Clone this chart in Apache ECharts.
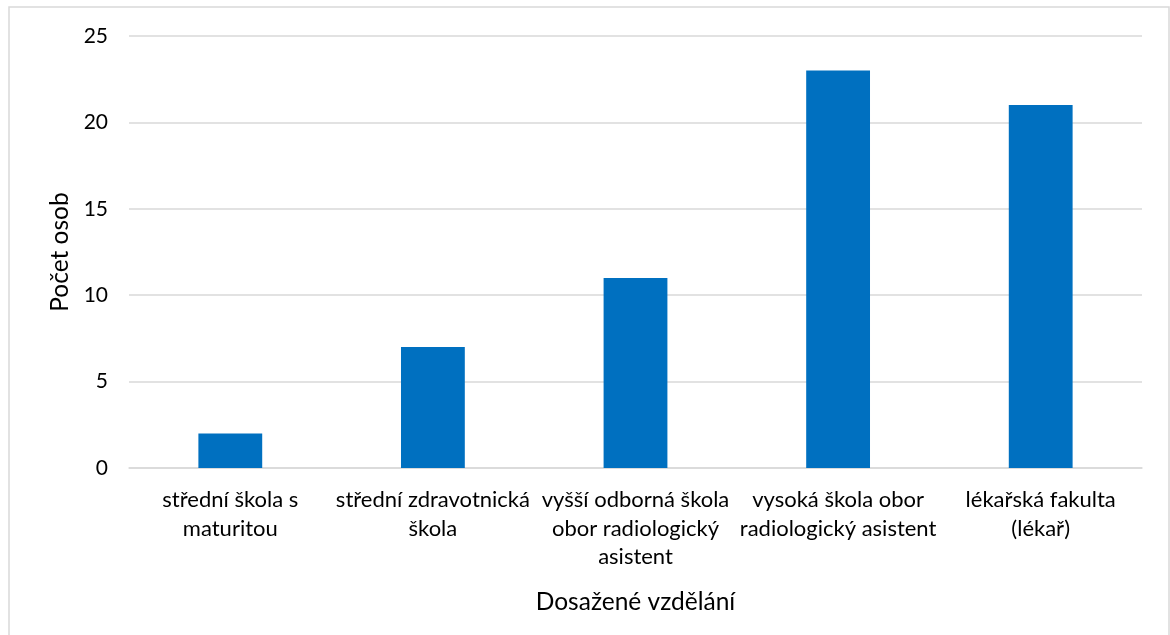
<!DOCTYPE html>
<html>
<head>
<meta charset="utf-8">
<script src="https://cdn.jsdelivr.net/npm/echarts@6/dist/echarts.min.js"></script>
<style>
html,body{margin:0;padding:0;background:#fff;}
#c{width:1170px;height:635px;}
</style>
</head>
<body>
<div id="c"></div>
<script>
const categories = [
  "střední škola s\nmaturitou",
  "střední zdravotnická\nškola",
  "vyšší odborná škola\nobor radiologický\nasistent",
  "vysoká škola obor\nradiologický asistent",
  "lékařská fakulta\n(lékař)"
];
const values = [2, 7, 11, 23, 21];
const yTicks = [0, 5, 10, 15, 20, 25];
const xTitle = "Dosažené vzdělání";
const yTitle = "Počet osob";

const font = "Lato, 'Noto Sans', sans-serif";
const chart = echarts.init(document.getElementById('c'), null, {renderer: 'canvas'});
chart.setOption({
  animation: false,
  backgroundColor: '#fff',
  graphic: [{
    type: 'rect',
    shape: {x: 9, y: 7, width: 1160, height: 640},
    style: {fill: 'none', stroke: '#d9d9d9', lineWidth: 1.5},
    silent: true
  }],
  grid: {left: 129, right: 28, top: 36, bottom: 167, containLabel: false},
  xAxis: {
    type: 'category',
    data: categories,
    name: xTitle,
    nameLocation: 'middle',
    nameGap: 122,
    nameTextStyle: {fontFamily: font, fontSize: 24.5, color: '#000'},
    axisLine: {show: true, lineStyle: {color: '#d9d9d9', width: 1.5}},
    axisTick: {show: false},
    axisLabel: {
      interval: 0,
      fontFamily: font, fontSize: 22, color: '#000',
      lineHeight: 28.5, margin: 18
    }
  },
  yAxis: {
    type: 'value',
    min: yTicks[0], max: yTicks[yTicks.length - 1], interval: 5,
    name: yTitle,
    nameLocation: 'middle',
    nameGap: 56,
    nameTextStyle: {fontFamily: font, fontSize: 24.5, color: '#000'},
    axisLine: {show: false},
    axisTick: {show: false},
    splitLine: {show: true, lineStyle: {color: '#d9d9d9', width: 1.5}},
    axisLabel: {fontFamily: font, fontSize: 21, color: '#000', margin: 21}
  },
  series: [{
    type: 'bar',
    data: values,
    barWidth: '31.5%',
    itemStyle: {color: '#0070C0'}
  }]
});
</script>
</body>
</html>
